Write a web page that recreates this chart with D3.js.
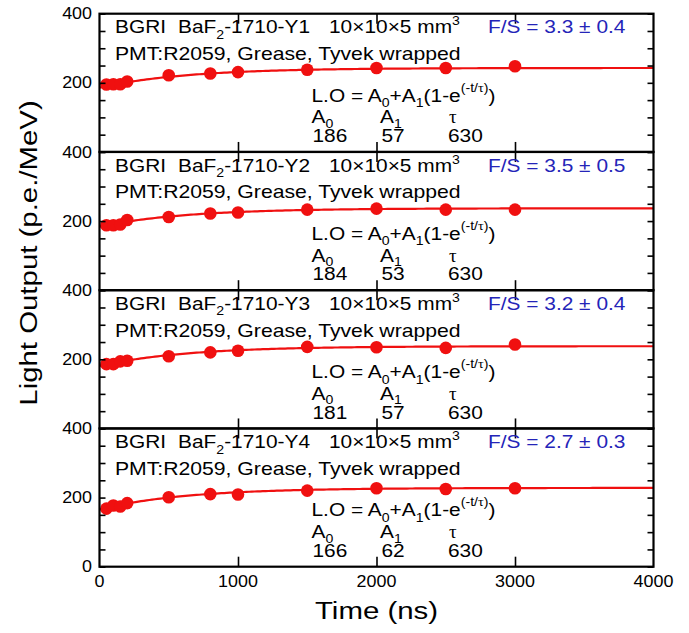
<!DOCTYPE html>
<html>
<head>
<meta charset="utf-8">
<script src="https://cdn.jsdelivr.net/npm/d3@7"></script>
<style>
  html, body { margin: 0; padding: 0; background: #fff; }
  svg { display: block; font-family: "Liberation Sans", Arial, sans-serif; }
</style>
</head>
<body>
<svg id="chart" width="689" height="633"></svg>
<script>
// Measurement times (ns) shared by every crystal
const times = [50, 100, 150, 200, 500, 800, 1000, 1500, 2000, 2500, 3000];

// Light output (p.e./MeV) per crystal
const lightY1 = [195, 196, 196, 204, 222, 227, 231, 238, 243, 243, 248];
const lightY2 = [188, 188, 190, 203, 212, 222, 225, 233, 236, 233, 233];
const lightY3 = [186, 186, 194, 196, 209, 220, 225, 236, 235, 233, 243];
const lightY4 = [168, 177, 174, 184, 201, 210, 209, 220, 227, 225, 227];

// Crystal names and fit results L.O = A0 + A1 (1 - exp(-t/tau))
const crystals = ["Y1", "Y2", "Y3", "Y4"];
const fitA0 = [186, 184, 181, 166];
const fitA1 = [57, 53, 57, 62];
const fitTau = [630, 630, 630, 630];
const fsValue = ["3.3", "3.5", "3.2", "2.7"];
const fsError = ["0.4", "0.5", "0.4", "0.3"];

// Axis ticks
const xTickValues = [0, 1000, 2000, 3000, 4000];
const yLabelValues = [200, 400];

const series = [lightY1, lightY2, lightY3, lightY4];

const svg = d3.select("#chart");
const plotL = 99.5, plotR = 653.5, plotT = 13.7, plotB = 566.7;
const panelH = (plotB - plotT) / 4;

const x = d3.scaleLinear().domain([0, 4000]).range([plotL, plotR]);

const RED = "#f01010";
const BLUE = "#2424b8";
const FONT = "'Liberation Sans', Arial, sans-serif";

// Text node whose glyphs are widened along the reading direction
function addText(g, tx, ty, size, sx, anchor, rot) {
  return g.append("text")
    .attr("transform", `translate(${tx},${ty})` + (rot ? ` rotate(${rot})` : "") + ` scale(${sx},1)`)
    .attr("font-size", size)
    .attr("font-family", FONT)
    .attr("text-anchor", anchor || "start")
    .attr("fill", "#000");
}

const curveT = d3.range(0, 4001, 20);

series.forEach((vals, i) => {
  const pt = plotT + i * panelH, pb = pt + panelH;
  const y = d3.scaleLinear().domain([0, 400]).range([pb, pt]);
  const g = svg.append("g");

  // fit curve from the stated parameters
  const line = d3.line().x(t => x(t)).y(t => y(fitA0[i] + fitA1[i] * (1 - Math.exp(-t / fitTau[i]))));
  g.append("path").datum(curveT).attr("d", line)
    .attr("fill", "none").attr("stroke", RED).attr("stroke-width", 2.2);

  g.selectAll("circle").data(times).join("circle")
    .attr("cx", t => x(t)).attr("cy", (t, j) => y(vals[j]))
    .attr("r", 6.3).attr("fill", RED);

  // ticks
  const yt = d3.range(0, 401, 50);
  const axL = g.append("g").attr("transform", `translate(${plotL},0)`)
    .call(d3.axisLeft(y).tickValues(yt).tickSize(-6).tickFormat(""));
  const axR = g.append("g").attr("transform", `translate(${plotR},0)`)
    .call(d3.axisRight(y).tickValues(yt).tickSize(-6).tickFormat(""));
  const axT = g.append("g").attr("transform", `translate(0,${pt})`)
    .call(d3.axisTop(x).tickValues([1000, 2000, 3000]).tickSize(-10).tickFormat(""));
  const axB = g.append("g").attr("transform", `translate(0,${pb})`)
    .call(d3.axisBottom(x).tickValues([1000, 2000, 3000]).tickSize(-10).tickFormat(""));
  [axL, axR, axT, axB].forEach(a => {
    a.select(".domain").remove();
    a.selectAll("line").attr("stroke", "#000").attr("stroke-width", 1.6);
  });

  g.append("rect").attr("x", plotL).attr("y", pt).attr("width", plotR - plotL).attr("height", panelH)
    .attr("fill", "none").attr("stroke", "#000").attr("stroke-width", 2.2);

  // y tick labels
  yLabelValues.forEach(v => {
    addText(g, 92, y(v) + 5.6, 16, 1.12, "end").text(v);
  });
  if (i === series.length - 1) addText(g, 92, y(0) + 5.6, 16, 1.12, "end").text(0);

  // header lines
  const fs = 18.5, sx = 1.13;
  addText(g, 115, pt + 19.6, fs, sx).text("BGRI");
  const t2 = addText(g, 178, pt + 19.6, fs, sx);
  t2.append("tspan").text("BaF");
  t2.append("tspan").attr("font-size", 12.5).attr("dy", 5.5).text("2");
  t2.append("tspan").attr("dy", -5.5).text("-1710-" + crystals[i]);
  const t3 = addText(g, 329, pt + 19.6, fs, sx);
  t3.append("tspan").text("10×10×5 mm");
  t3.append("tspan").attr("font-size", 12.5).attr("dy", -8).text("3");
  addText(g, 488, pt + 19.6, fs, sx).attr("fill", BLUE)
    .text(`F/S = ${fsValue[i]} ± ${fsError[i]}`);
  addText(g, 115, pt + 46.3, fs, 1.145).text("PMT:R2059, Grease, Tyvek wrapped");

  // fit formula and parameters
  const f = addText(g, 311.5, pt + 88, fs, sx);
  f.append("tspan").text("L.O = A");
  f.append("tspan").attr("font-size", 12.5).attr("dy", 5.5).text("0");
  f.append("tspan").attr("dy", -5.5).text("+A");
  f.append("tspan").attr("font-size", 12.5).attr("dy", 5.5).text("1");
  f.append("tspan").attr("dy", -5.5).text("(1-e");
  f.append("tspan").attr("font-size", 12.5).attr("dy", -10).text("(-t/");
  f.append("tspan").attr("font-size", 12.5).attr("font-family", "'Liberation Serif', serif").text("τ");
  f.append("tspan").attr("font-size", 12.5).text(")");
  f.append("tspan").attr("dy", 10).text(")");

  const a0 = addText(g, 311.5, pt + 109.6, fs, sx);
  a0.append("tspan").text("A");
  a0.append("tspan").attr("font-size", 12.5).attr("dy", 4.5).text("0");
  const a1 = addText(g, 380, pt + 109.6, fs, sx);
  a1.append("tspan").text("A");
  a1.append("tspan").attr("font-size", 12.5).attr("dy", 4.5).text("1");
  addText(g, 449, pt + 109.6, 19, 1, "start").attr("font-family", "'Liberation Serif', serif").text("τ");

  addText(g, 312.5, pt + 128.5, fs, sx).text(fitA0[i]);
  addText(g, 381.5, pt + 128.5, fs, sx).text(fitA1[i]);
  addText(g, 448, pt + 128.5, fs, sx).text(fitTau[i]);
});

// x tick labels
xTickValues.forEach(v => {
  addText(svg, x(v), 587, 16, 1.12, "middle").text(v);
});

// axis titles
addText(svg, (plotL + plotR) / 2, 619, 24.5, 1.2, "middle").text("Time (ns)");
addText(svg, 37, 253, 24.5, 1.2, "middle", -90).text("Light Output (p.e./MeV)");
</script>
</body>
</html>
